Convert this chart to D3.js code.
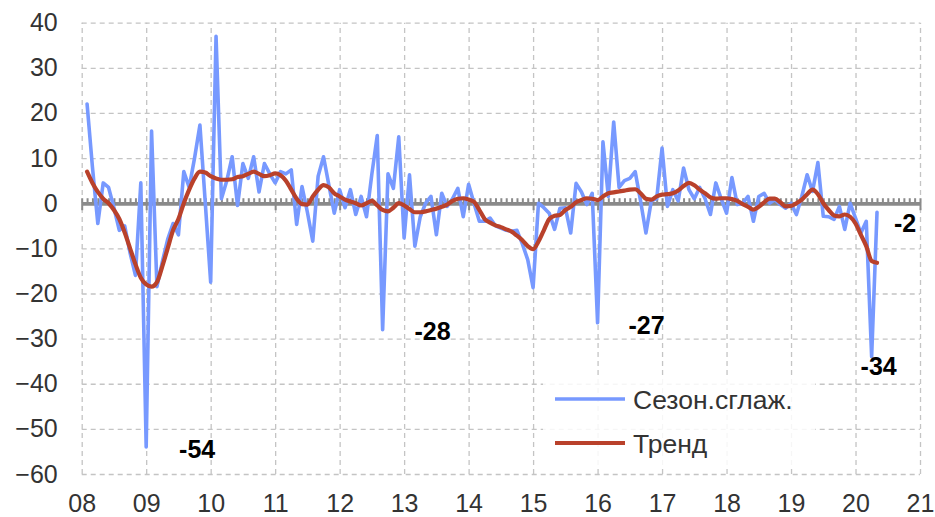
<!DOCTYPE html>
<html lang="ru">
<head>
  <meta charset="UTF-8">
  <style>
    body { margin: 0; background: #fff; }
    svg text { font-family: "Liberation Sans", Arial, sans-serif; }

    /* dashed grid, axis paths hidden */
    .grid path { display: none; }
    .grid .tick line { stroke: #c4c4c4; stroke-width: 1.3; stroke-dasharray: 5 4; }

    /* tick labels only */
    .labels path, .labels line { display: none; }
    .labels text { font-size: 25px; fill: #333; }

    /* thick gray zero axis with month ticks */
    .zero path { stroke: #8a8a8a; stroke-width: 3.5; }
    .zero .tick line { stroke: #8a8a8a; stroke-width: 2; }
    .zero text { display: none; }

    .fn { fill: none; stroke-linejoin: round; stroke-linecap: round; }
    .callout { font-size: 25px; font-weight: bold; fill: #000; text-anchor: middle; }
    .legend text { font-size: 26.5px; fill: #333; }
  </style>
</head>
<body>
  <svg id="chart" width="935" height="517"></svg>
  <script src="https://cdnjs.cloudflare.com/ajax/libs/d3/7.8.5/d3.min.js"></script>
  <script>
    // month index 0 = Jan 2008; both series start at Feb 2008 (index 1)
    const firstMonth = 1
    const yearLabels = ['08', '09', '10', '11', '12', '13', '14', '15', '16', '17', '18', '19', '20', '21']
    const yTicks = [40, 30, 20, 10, 0, -10, -20, -30, -40, -50, -60]

    // Сезон.сглаж. (monthly, Feb 2008 - May 2020)
    const seasonal = [
      22, 8, -4.5, 4.5, 3.5, -1, -6, -5, -11, -16, 4.5,                 // 2008
      -54, 16, -18.5, -13, -8, -4.5, -7, 7, 3.5, 10, 17.3, 0,           // 2009
      -17.5, 37, 1, 5, 10.3, -0.5, 8.8, 5.5, 10.3, 2.5, 8.8, 6.5,       // 2010
      4.5, 7, 6.5, 7.4, -4.7, 3.7, -2, -8.4, 6, 10.3, 4, -2.2,          // 2011
      3, -1, 3, -2.5, 1.5, -3, 6.5, 15, -28, 6.5, 3.3, 14.7,            // 2012
      -7.7, 6.3, -9.5, -3, 0, 1.5, -7, 2.2, -0.7, 1, 3.3, -3,           // 2013
      4.2, 0, -4, -4, -3.3, -5, -5.5, -6, -6.2, -6, -9, -12.5,          // 2014
      -18.7, 0, -1, -2.2, -5.8, -1.1, -1, -6.6, 4.4, 2.5, -0.3, 2.2,    // 2015
      -26.5, 13.6, 1.5, 18, 3.5, 5, 5.5, 7, 0.5, -6.6, 0.5, 1,          // 2016
      12.2, -0.7, 3, 0.5, 7.8, 3, 1, 3.5, 1, -2.5, 4.5, 1,              // 2017
      -2.2, 5.7, -0.3, 0, 1.5, -4, 1.5, 2.2, 0, 0.8, -0.3, -1.1,        // 2018
      0, -2.5, 1.5, 6.3, 2.6, 9, -2.9, -3, -3.6, -0.7, -5.8, 0,         // 2019
      -3.3, -6.6, -4, -34, -2                                           // 2020
    ]

    // Тренд
    const trend = [
      7, 4.5, 2.5, 1, 0, -1.5, -3.5, -6.5, -10, -13.5, -16.5,           // 2008
      -18, -18.5, -17.5, -14, -10, -6, -3.5, 0, 3, 5.5, 7, 6.8,         // 2009
      6, 5.5, 5.2, 5.2, 5.3, 5.8, 6, 6.5, 7, 6.5, 6, 6.2,               // 2010
      6.6, 6.2, 5, 3, 1, -0.2, -0.3, 1.5, 3, 4, 3.5, 2.2,               // 2011
      1.5, 0.8, 0.4, 0, -0.5, 0, 0.5, -0.5, -1.5, -1.8, -1, 0,          // 2012
      -0.5, -1.3, -2, -2, -1.8, -1.5, -1.2, -0.8, -0.3, 0.5, 1, 1.1,    // 2013
      0.8, 0.3, -1.5, -3.5, -4.3, -4.9, -5.3, -5.8, -6.3, -7.2, -8.2, -9.5, // 2014
      -10.2, -8.5, -6, -3.5, -2.8, -2.6, -1.5, -0.8, 0.2, 0.7, 1.1, 1,  // 2015
      0.7, 1.5, 2.2, 2.4, 2.6, 2.8, 3, 3.1, 2.2, 1, 0.8, 1.5,           // 2016
      1.9, 2, 2.2, 2.8, 3.8, 4.5, 4, 3, 2.2, 1.3, 1, 1.1,               // 2017
      1.1, 0.9, 0.5, -0.2, -0.8, -1.4, -0.8, 0.2, 1, 1, 0.2, -0.7,      // 2018
      -0.6, 0, 0.8, 2, 3, 2, 0, -1.5, -2.7, -2.9, -2.5, -3,             // 2019
      -4.5, -7, -9.5, -12.8, -13.2                                      // 2020
    ]

    // labelled points: month index and text
    const callouts = [
      { i: 12, text: '-54' },
      { i: 56, text: '-28' },
      { i: 96, text: '-27' },
      { i: 147, text: '-34' },
      { i: 148, text: '-2' },
    ]
    const legendItems = ['Сезон.сглаж.', 'Тренд']

    const colors = { seasonal: '#7799ff', trend: '#b9412b' }
    const box = { left: 81.7, right: 920, top: 22.7, bottom: 474 }
    const width = box.right - box.left
    const height = box.bottom - box.top

    const xScale = d3.scaleLinear()
      .domain([0, (yearLabels.length - 1) * 12])
      .range([0, width])
    const yScale = d3.scaleLinear()
      .domain([-60, 40])
      .range([height, 0])

    const yearTicks = yearLabels.map((d, i) => i * 12)
    const monthTicks = d3.range(0, (yearLabels.length - 1) * 12 + 1)

    const svg = d3.select('#chart')
    const canvas = svg.append('g')
        .attr('transform', `translate(${box.left}, ${box.top})`)

    // Grid
    // ====
    canvas.append('g')
        .attr('class', 'grid')
        .attr('transform', `translate(0, ${height})`)
        .call(d3.axisBottom(xScale).tickValues(yearTicks).tickSize(-height).tickFormat(''))
    canvas.append('g')
        .attr('class', 'grid')
        .call(d3.axisLeft(yScale).tickValues(yTicks).tickSize(-width).tickFormat(''))

    // Labels
    // ======
    canvas.append('g')
        .attr('class', 'labels')
        .attr('transform', `translate(0, ${height})`)
        .call(d3.axisBottom(xScale).tickValues(yearTicks).tickSize(0).tickPadding(20)
          .tickFormat((d, i) => yearLabels[i]))
    canvas.append('g')
        .attr('class', 'labels')
        .call(d3.axisLeft(yScale).tickValues(yTicks).tickSize(0).tickPadding(24))

    // Zero axis
    // =========
    canvas.append('g')
        .attr('class', 'zero')
        .attr('transform', `translate(0, ${yScale(0)})`)
        .call(d3.axisTop(xScale).tickValues(monthTicks).tickSize(5).tickSizeOuter(0))
    canvas.append('g')
        .attr('class', 'zero')
        .attr('transform', `translate(0, ${yScale(0)})`)
        .call(d3.axisBottom(xScale).tickValues(yearTicks).tickSize(7).tickSizeOuter(0))

    // Series
    // ======
    const toPoints = arr => arr.map((v, k) => ({ i: firstMonth + k, v: v }))
    const line = d3.line()
      .x(d => xScale(d.i))
      .y(d => yScale(d.v))

    canvas.append('path')
        .attr('class', 'fn')
        .datum(toPoints(seasonal))
        .attr('d', line)
        .attr('stroke', colors.seasonal)
        .attr('stroke-width', 3.6)

    canvas.append('path')
        .attr('class', 'fn')
        .datum(toPoints(trend))
        .attr('d', line.curve(d3.curveMonotoneX))
        .attr('stroke', colors.trend)
        .attr('stroke-width', 4.2)

    // Callouts
    // ========
    const calloutOffset = {
      12: [51, 2], 56: [50, 1], 96: [49, 2], 147: [7, 9], 148: [28, 11]
    }
    canvas.append('g')
      .selectAll('text')
        .data(callouts)
      .enter().append('text')
        .attr('class', 'callout')
        .attr('x', d => xScale(d.i) + calloutOffset[d.i][0])
        .attr('y', d => yScale(seasonal[d.i - firstMonth]) + calloutOffset[d.i][1])
        .attr('dy', '0.36em')
        .text(d => d.text)

    // Legend
    // ======
    const legend = svg.append('g')
        .attr('class', 'legend')
    legend.append('rect')
        .attr('x', 543).attr('y', 378)
        .attr('width', 272).attr('height', 90)
        .attr('fill', '#fff').attr('fill-opacity', 0.85)
    const items = legend.selectAll('g.item')
        .data(legendItems)
      .enter().append('g')
        .attr('class', 'item')
        .attr('transform', (d, i) => `translate(555, ${399 + i * 44})`)
    items.append('line')
        .attr('x1', 0).attr('x2', 70)
        .attr('stroke', (d, i) => i === 0 ? colors.seasonal : colors.trend)
        .attr('stroke-width', (d, i) => i === 0 ? 3.6 : 4.2)
    items.append('text')
        .attr('x', 78)
        .attr('dy', '0.36em')
        .text(d => d)
  </script>
</body>
</html>
